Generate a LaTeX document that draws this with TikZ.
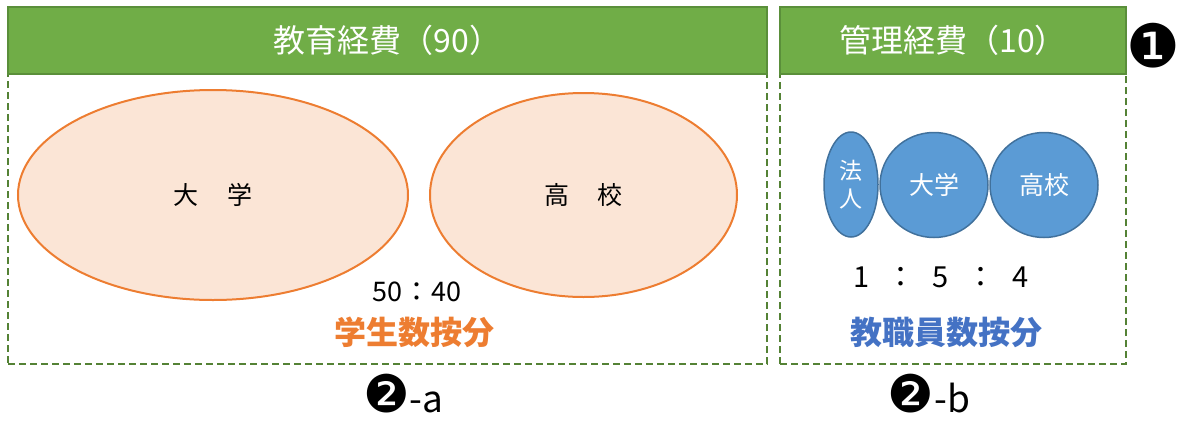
\documentclass[tikz,border=0pt]{standalone}
\usepackage{fontspec}
\usepackage{tikz}
\usetikzlibrary{shapes.geometric}
\setmainfont{Noto Sans CJK JP}
\newfontfamily\dejavu{DejaVu Sans}
\definecolor{hdgreen}{HTML}{70AD47}
\definecolor{hdline}{HTML}{5A8F3A}
\definecolor{dashgreen}{HTML}{548235}
\definecolor{orline}{HTML}{ED7D31}
\definecolor{orfill}{HTML}{FBE5D6}
\definecolor{blfill}{HTML}{5B9BD5}
\definecolor{blline}{HTML}{41719C}
\definecolor{bltext}{HTML}{4472C4}
\newcommand{\twomark}{{\dejavu\fontsize{52}{52}\selectfont ❷}}
\tikzset{
  header/.style={draw=hdline, line width=1.5pt, fill=hdgreen, text=white,
    font=\fontsize{32}{34}\selectfont, inner sep=0pt, minimum height=67pt},
  frame/.style={draw=dashgreen, line width=2.5pt, dash pattern=on 7pt off 4pt,
    inner sep=0pt, minimum height=290pt},
  bigoval/.style={ellipse, draw=orline, line width=2pt, fill=orfill,
    font=\fontsize{25}{27}\selectfont, inner sep=0pt},
  smalloval/.style={ellipse, draw=blline, line width=1.5pt, fill=blfill, text=white,
    font=\fontsize{25}{27}\selectfont, inner sep=0pt},
  keytext/.style={font=\bfseries\fontsize{32}{34}\selectfont},
  marknum/.style={font=\fontsize{37}{37}\selectfont, inner sep=0pt, anchor=base,
    text depth=0pt}
}
\begin{document}
\begin{tikzpicture}[x=1pt, y=-1pt]
    \useasboundingbox (0,0) rectangle (1179,421);
    % left block
    \node[frame, minimum width=759pt] (edubox) at (387.5,219) {};
    \node[header, minimum width=759pt] (edu) at (387.5,40.5) {教育経費（90）};
    \node[bigoval, minimum width=390pt, minimum height=210pt] (daigaku) at (213,195) {大\hspace{1.15em}学};
    \node[bigoval, minimum width=307pt, minimum height=204pt] (koko) at (583.5,195) {高\hspace{1.1em}校};
    \node[font=\fontsize{27}{29}\selectfont] (ratioa) at (417,292) {50\hspace{0.05em}：\hspace{0.05em}40};
    \node[keytext, text=orline] (keya) at (414,332) {学生数按分};
    % right block
    \node[frame, minimum width=346pt] (admbox) at (953,219) {};
    \node[header, minimum width=346pt] (adm) at (953,40.5) {管理経費（10）};
    \node[smalloval, minimum width=54pt, minimum height=105pt, align=center,
      font=\fontsize{23}{28}\selectfont] (hojin) at (851,184.5) {法\\人};
    \node[smalloval, minimum width=108pt, minimum height=105pt] (daib) at (934,185) {大学};
    \node[smalloval, minimum width=108pt, minimum height=105pt] (kokob) at (1044,185) {高校};
    \node[font=\fontsize{29}{31}\selectfont] (ratiob) at (941,277) {1\hspace{0.6em}：\hspace{0.6em}5\hspace{0.6em}：\hspace{0.6em}4};
    \node[keytext, text=bltext] (keyb) at (946,332) {教職員数按分};
    % marks
    \node[font=\dejavu\fontsize{60}{60}\selectfont, inner sep=0pt] (one) at (1153,46) {❶};
    \node[marknum] (twoa) at (403.5,412) {\twomark-a};
    \node[marknum] (twob) at (929,412) {\twomark-b};
\end{tikzpicture}
\end{document}
